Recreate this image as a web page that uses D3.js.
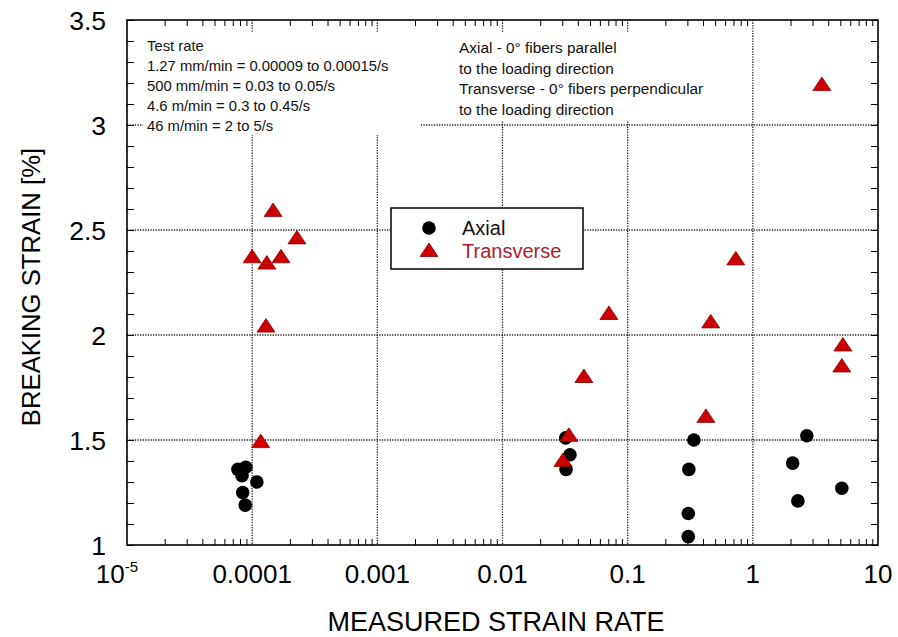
<!DOCTYPE html>
<html>
<head>
<meta charset="utf-8">
<script src="https://cdn.jsdelivr.net/npm/d3@7"></script>
<style>
body { margin: 0; background: #fff; }
text { font-family: "Liberation Sans", Arial, sans-serif; }
</style>
</head>
<body>
<svg id="chart" width="898" height="637"></svg>
<script>
// values
var axialRate = [0.000077, 0.000089, 0.000083, 0.000109, 0.000084, 0.000088,
    0.032, 0.0346, 0.0322,
    0.338, 0.308, 0.305, 0.305,
    2.70, 2.08, 2.29, 5.14];
var axialStrain = [1.36, 1.37, 1.33, 1.30, 1.25, 1.19,
    1.51, 1.43, 1.36,
    1.50, 1.36, 1.15, 1.04,
    1.52, 1.39, 1.21, 1.27];

var transRate = [0.000147, 0.000228, 0.0001, 0.000131, 0.00017, 0.000129, 0.000117,
    0.0708, 0.0447, 0.0339, 0.0304,
    0.461, 0.422, 0.731,
    5.24, 5.14, 3.56];
var transStrain = [2.59, 2.46, 2.37, 2.34, 2.37, 2.04, 1.49,
    2.10, 1.80, 1.52, 1.40,
    2.06, 1.61, 2.36,
    1.95, 1.85, 3.19];

var xMajor = [1e-5, 1e-4, 1e-3, 1e-2, 1e-1, 1, 10];
var xLabels = ["10", "0.0001", "0.001", "0.01", "0.1", "1", "10"];
var yMajor = [1, 1.5, 2, 2.5, 3, 3.5];
var yLabels = ["1", "1.5", "2", "2.5", "3", "3.5"];

var rateNotes = ["Test rate",
    "1.27 mm/min = 0.00009 to 0.00015/s",
    "500 mm/min = 0.03 to 0.05/s",
    "4.6 m/min = 0.3 to 0.45/s",
    "46 m/min = 2 to 5/s"];
var fiberNotes = ["Axial - 0\u00b0 fibers parallel",
    "to the loading direction",
    "Transverse - 0\u00b0 fibers perpendicular",
    "to the loading direction"];
var seriesNames = ["Axial", "Transverse"];

var plotLeft = 127, plotRight = 878, plotTop = 20, plotBottom = 545;
var red = "#cc0000";

var svg = d3.select("#chart");

var x = d3.scaleLog().domain([1e-5, 10]).range([plotLeft, plotRight]);
var y = d3.scaleLinear().domain([1, 3.5]).range([plotBottom, plotTop]);

// minor tick values on log axis
var xMinor = [];
for (var e = -5; e < 1; e++) {
    for (var k = 2; k <= 9; k++) xMinor.push(k * Math.pow(10, e));
}
var yMinor = d3.range(10, 36).map(d => d / 10);

// gridlines
svg.append("g")
    .selectAll("line")
    .data(xMajor.slice(1, -1))
    .enter()
    .append("line")
    .attr("x1", d => x(d)).attr("x2", d => x(d))
    .attr("y1", plotTop).attr("y2", plotBottom)
    .attr("stroke", "#222").attr("stroke-width", 1.3)
    .attr("stroke-dasharray", "1.3,1.3");

svg.append("g")
    .selectAll("line")
    .data(yMajor.slice(1, -1))
    .enter()
    .append("line")
    .attr("y1", d => y(d)).attr("y2", d => y(d))
    .attr("x1", plotLeft).attr("x2", plotRight)
    .attr("stroke", "#222").attr("stroke-width", 1.3)
    .attr("stroke-dasharray", "1.3,1.3");

// note boxes (white behind text)
svg.append("rect").attr("x", 143).attr("y", 32).attr("width", 277).attr("height", 103).attr("fill", "#fff");
svg.append("rect").attr("x", 447).attr("y", 32).attr("width", 275).attr("height", 88).attr("fill", "#fff");

svg.append("g")
    .selectAll("text")
    .data(rateNotes)
    .enter()
    .append("text")
    .attr("x", 147)
    .attr("y", (d, i) => 50.5 + i * 20.2)
    .attr("font-size", 14.8)
    .attr("fill", "#111")
    .text(d => d);

svg.append("g")
    .selectAll("text")
    .data(fiberNotes)
    .enter()
    .append("text")
    .attr("x", 459)
    .attr("y", (d, i) => 53 + i * 20.7)
    .attr("font-size", 15.4)
    .attr("fill", "#111")
    .text(d => d);

// axes ticks (inward)
function noLabels(g) {
    g.selectAll("text").remove();
    g.select(".domain").remove();
    g.selectAll("line").attr("stroke", "#000").attr("stroke-width", 1);
}

svg.append("g").attr("transform", `translate(0,${plotBottom})`)
    .call(d3.axisTop(x).tickValues(xMinor).tickSize(6)).call(noLabels);
svg.append("g").attr("transform", `translate(0,${plotTop})`)
    .call(d3.axisBottom(x).tickValues(xMinor).tickSize(6)).call(noLabels);
svg.append("g").attr("transform", `translate(${plotLeft},0)`)
    .call(d3.axisRight(y).tickValues(yMinor).tickSize(7)).call(noLabels);
svg.append("g").attr("transform", `translate(${plotRight},0)`)
    .call(d3.axisLeft(y).tickValues(yMinor).tickSize(7)).call(noLabels);

// frame
svg.append("rect")
    .attr("x", plotLeft).attr("y", plotTop)
    .attr("width", plotRight - plotLeft).attr("height", plotBottom - plotTop)
    .attr("fill", "none").attr("stroke", "#000").attr("stroke-width", 1.6);

// tick labels
var xl = svg.append("g")
    .selectAll("text")
    .data(xMajor)
    .enter()
    .append("text")
    .attr("x", (d, i) => x(d) - (i == 0 ? 10 : 0))
    .attr("y", 583)
    .attr("text-anchor", "middle")
    .attr("font-size", 26)
    .text((d, i) => xLabels[i]);
xl.filter((d, i) => i == 0)
    .append("tspan")
    .attr("dy", -11)
    .attr("font-size", 15)
    .text("-5");

svg.append("g")
    .selectAll("text")
    .data(yMajor)
    .enter()
    .append("text")
    .attr("x", 106)
    .attr("y", d => y(d) + 9.5)
    .attr("text-anchor", "end")
    .attr("font-size", 26.5)
    .text((d, i) => yLabels[i]);

// axis titles
svg.append("text")
    .attr("x", 496).attr("y", 631)
    .attr("text-anchor", "middle")
    .attr("font-size", 27)
    .text("MEASURED STRAIN RATE");

svg.append("text")
    .attr("transform", "translate(40,287) rotate(-90)")
    .attr("text-anchor", "middle")
    .attr("font-size", 25.7)
    .text("BREAKING STRAIN [%]");

// legend
svg.append("rect")
    .attr("x", 391).attr("y", 208).attr("width", 192).attr("height", 61)
    .attr("fill", "#fff").attr("stroke", "#000").attr("stroke-width", 1.5);

var triangle = "M0,-8L9,5.5L-9,5.5Z";

svg.append("circle").attr("cx", 429).attr("cy", 228).attr("r", 6.8).attr("fill", "#000");
svg.append("path").attr("d", triangle).attr("transform", "translate(429,251)")
    .attr("fill", red).attr("stroke", "#800").attr("stroke-width", 0.8);
svg.append("g")
    .selectAll("text")
    .data(seriesNames)
    .enter()
    .append("text")
    .attr("x", 462)
    .attr("y", (d, i) => 234.5 + i * 23)
    .attr("font-size", 20)
    .attr("fill", (d, i) => i == 0 ? "#111" : "#a8232c")
    .text(d => d);

// data points
svg.append("g")
    .selectAll("circle")
    .data(axialRate)
    .enter()
    .append("circle")
    .attr("cx", d => x(d))
    .attr("cy", (d, i) => y(axialStrain[i]))
    .attr("r", 6.8)
    .attr("fill", "#000");

svg.append("g")
    .selectAll("path")
    .data(transRate)
    .enter()
    .append("path")
    .attr("d", triangle)
    .attr("transform", (d, i) => `translate(${x(d)},${y(transStrain[i])})`)
    .attr("fill", red)
    .attr("stroke", "#800")
    .attr("stroke-width", 0.8);
</script>
</body>
</html>
